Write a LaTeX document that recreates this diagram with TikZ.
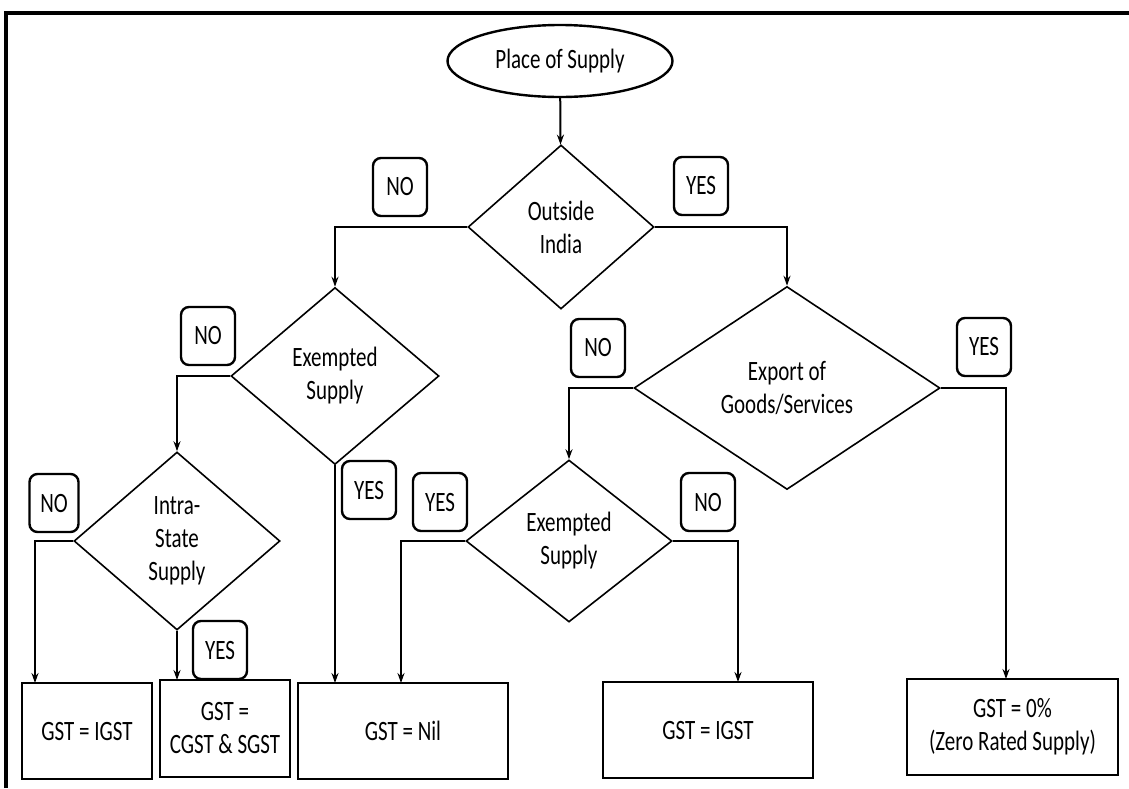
\documentclass[tikz,border=0pt]{standalone}
\usepackage{fontspec}
\setmainfont{Carlito}[FakeStretch=0.75]
\usetikzlibrary{shapes.geometric,arrows.meta}
\begin{document}
\begin{tikzpicture}[x=0.5pt,y=-0.5pt,
  every node/.style={font=\fontsize{14}{16.5}\selectfont, align=center, inner sep=0pt},
  dec/.style={draw, diamond, line width=0.8pt},
  res/.style={draw, rectangle, line width=1.2pt, minimum height=48pt},
  lab/.style={draw, rectangle, rounded corners=4pt, line width=1.2pt, minimum width=27pt, minimum height=29pt},
  arr/.style={line width=1pt, -{Stealth[length=5pt,width=3.5pt]}},
  con/.style={line width=1pt}]
\useasboundingbox (0,0) rectangle (1129,788);
\draw[line width=1.8pt] (6,788) -- (6,13) -- (1129,13);

% start
\node[draw, ellipse, line width=1.2pt, minimum width=112.5pt, minimum height=36pt] (start) at (560,61) {Place of Supply};

% decisions
\node[dec, minimum width=93pt, minimum height=82pt] (outside) at (561,227) {Outside\\India};
\node[dec, minimum width=104pt, minimum height=88.5pt] (ex1) at (335,376) {Exempted\\Supply};
\node[dec, minimum width=103pt, minimum height=89pt] (intra) at (177,541) {Intra-\\State\\Supply};
\node[dec, minimum width=103pt, minimum height=81pt] (ex2) at (569,541) {Exempted\\Supply};
\node[dec, minimum width=153pt, minimum height=101.5pt] (export) at (787,388) {Export of\\Goods/Services};

% results
\node[res, minimum width=65pt] (r1) at (87,731) {GST = IGST};
\node[res, minimum width=65pt, minimum height=48.5pt] (r2) at (225,728.5) {GST =\\CGST \& SGST};
\node[res, minimum width=105pt] (r3) at (403,731) {GST = Nil};
\node[res, minimum width=105pt] (r4) at (708,730) {GST = IGST};
\node[res, minimum width=105.5pt] (r5) at (1012.5,727) {GST = 0\%\\(Zero Rated Supply)};

% labels
\node[lab] (l1) at (400,187) {NO};
\node[lab] (l2) at (701,186) {YES};
\node[lab] (l3) at (208,336) {NO};
\node[lab] (l4) at (369,490) {YES};
\node[lab, minimum width=24.5pt] (l5) at (54,503) {NO};
\node[lab] (l6) at (220,650) {YES};
\node[lab] (l7) at (440,502) {YES};
\node[lab] (l8) at (708,502) {NO};
\node[lab] (l9) at (598,348) {NO};
\node[lab] (l10) at (984,347) {YES};

% target points on result boxes
\coordinate (t1) at (35,683);
\coordinate (t2) at (177,680);
\coordinate (t3) at (335,683);
\coordinate (t4) at (401,683);
\coordinate (t5) at (738,682);
\coordinate (t6) at (1006,679);

% connectors
\draw[arr] (start) -- (outside);
\draw[arr] (outside.west) -| (ex1.north);
\draw[arr] (outside.east) -| (export.north);
\draw[arr] (ex1.west) -| (intra.north);
\draw[arr] (ex1.south) -- (t3);
\draw[arr] (intra.west) -| (t1);
\draw[arr] (intra.south) -- (t2);
\draw[arr] (export.west) -| (ex2.north);
\draw[arr] (export.east) -| (t6);
\draw[arr] (ex2.west) -| (t4);
\draw[arr] (ex2.east) -| (t5);
\end{tikzpicture}
\end{document}
